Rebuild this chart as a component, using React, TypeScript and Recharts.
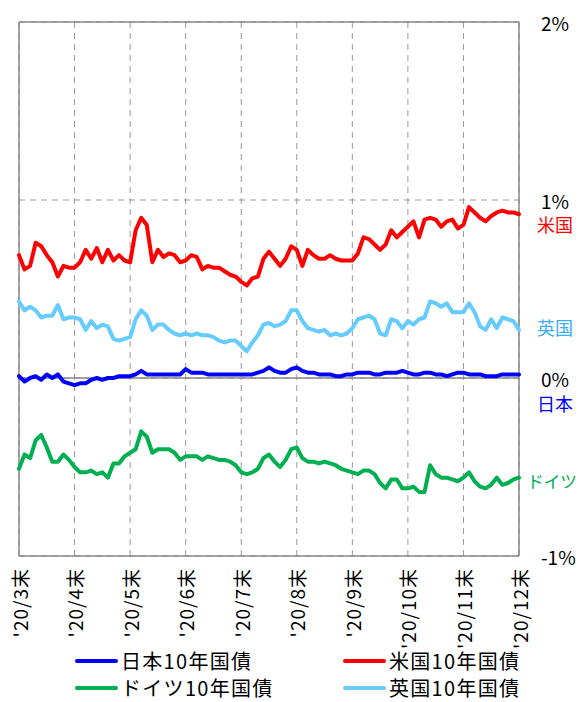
import React from 'react';
import { LineChart, Line, XAxis, YAxis, CartesianGrid, ReferenceLine } from 'recharts';

const monthLabels = ["'20/3末", "'20/4末", "'20/5末", "'20/6末", "'20/7末", "'20/8末", "'20/9末", "'20/10末", "'20/11末", "'20/12末"];
const yTicks = [-1, 0, 1, 2];

const usYield = [
  0.69, 0.61, 0.63, 0.76, 0.74, 0.69, 0.65, 0.57, 0.63, 0.62,
  0.62, 0.65, 0.72, 0.67, 0.73, 0.65, 0.72, 0.66, 0.69, 0.66,
  0.65, 0.83, 0.90, 0.86, 0.65, 0.72, 0.68, 0.70, 0.69, 0.65,
  0.66, 0.69, 0.68, 0.61, 0.63, 0.62, 0.62, 0.60, 0.58, 0.57,
  0.54, 0.52, 0.56, 0.57, 0.67, 0.71, 0.67, 0.63, 0.67, 0.74,
  0.72, 0.63, 0.72, 0.69, 0.67, 0.67, 0.69, 0.67, 0.66, 0.66,
  0.66, 0.70, 0.79, 0.78, 0.75, 0.72, 0.75, 0.83, 0.79, 0.82,
  0.85, 0.88, 0.79, 0.89, 0.90, 0.89, 0.85, 0.88, 0.89, 0.84,
  0.86, 0.96, 0.93, 0.90, 0.88, 0.91, 0.93, 0.94, 0.93, 0.93, 0.92,
];

const ukYield = [
  0.43, 0.38, 0.40, 0.38, 0.34, 0.35, 0.35, 0.41, 0.33, 0.34,
  0.34, 0.33, 0.27, 0.32, 0.28, 0.30, 0.29, 0.22, 0.21, 0.22,
  0.23, 0.33, 0.38, 0.35, 0.27, 0.30, 0.30, 0.27, 0.25, 0.24,
  0.25, 0.24, 0.25, 0.24, 0.24, 0.23, 0.21, 0.20, 0.21, 0.21,
  0.18, 0.15, 0.20, 0.24, 0.30, 0.31, 0.29, 0.30, 0.32, 0.38,
  0.38, 0.32, 0.28, 0.27, 0.26, 0.27, 0.24, 0.25, 0.24, 0.25,
  0.28, 0.33, 0.34, 0.35, 0.33, 0.25, 0.24, 0.33, 0.32, 0.28,
  0.32, 0.30, 0.33, 0.34, 0.43, 0.42, 0.40, 0.42, 0.37, 0.37,
  0.37, 0.42, 0.37, 0.29, 0.27, 0.33, 0.28, 0.34, 0.33, 0.32, 0.27,
];

const jpYield = [
  0.01, -0.02, 0.00, 0.01, -0.01, 0.02, 0.00, 0.02, -0.02, -0.03,
  -0.04, -0.03, -0.03, -0.01, 0.00, -0.01, 0.00, 0.00, 0.01, 0.01,
  0.01, 0.02, 0.04, 0.02, 0.02, 0.02, 0.02, 0.02, 0.02, 0.02,
  0.05, 0.03, 0.03, 0.03, 0.02, 0.02, 0.02, 0.02, 0.02, 0.02,
  0.02, 0.02, 0.02, 0.03, 0.04, 0.06, 0.04, 0.03, 0.03, 0.05,
  0.06, 0.04, 0.03, 0.03, 0.02, 0.02, 0.02, 0.01, 0.01, 0.02,
  0.02, 0.03, 0.03, 0.03, 0.02, 0.02, 0.03, 0.03, 0.03, 0.04,
  0.03, 0.02, 0.02, 0.03, 0.03, 0.02, 0.02, 0.01, 0.02, 0.03,
  0.03, 0.02, 0.02, 0.02, 0.01, 0.01, 0.01, 0.02, 0.02, 0.02, 0.02,
];

const deYield = [
  -0.51, -0.43, -0.45, -0.35, -0.32, -0.39, -0.47, -0.47, -0.43, -0.46,
  -0.50, -0.53, -0.53, -0.52, -0.54, -0.53, -0.56, -0.48, -0.48, -0.44,
  -0.42, -0.40, -0.30, -0.33, -0.42, -0.40, -0.40, -0.40, -0.42, -0.46,
  -0.44, -0.44, -0.44, -0.46, -0.44, -0.45, -0.46, -0.46, -0.47, -0.49,
  -0.53, -0.54, -0.53, -0.51, -0.45, -0.43, -0.47, -0.50, -0.46, -0.40,
  -0.39, -0.45, -0.47, -0.47, -0.48, -0.47, -0.48, -0.49, -0.51, -0.52,
  -0.53, -0.54, -0.52, -0.52, -0.54, -0.59, -0.62, -0.57, -0.57, -0.62,
  -0.62, -0.61, -0.64, -0.64, -0.49, -0.54, -0.56, -0.56, -0.57, -0.58,
  -0.56, -0.53, -0.58, -0.61, -0.62, -0.60, -0.56, -0.60, -0.59, -0.57, -0.56,
];

const seriesNames = ['日本10年国債', '米国10年国債', 'ドイツ10年国債', '英国10年国債'];
const seriesKeys = ['jp', 'us', 'de', 'uk'];
const seriesColors = ['#0000FF', '#FF0000', '#00B050', '#66CCFF'];
const shortNames = ['日本', '米国', 'ドイツ', '英国'];
const shortLabelY = [-0.14, 0.865, -0.575, 0.285];

const data = usYield.map((v, i) => ({
  i,
  us: v,
  uk: ukYield[i],
  jp: jpYield[i],
  de: deYield[i],
}));

const xTicks = monthLabels.map((_, k) => k * 10);

const FONT = '"Noto Sans CJK JP", "Noto Sans", sans-serif';

const XTick = (props: any) => {
  const { x, y, payload } = props;
  const label = monthLabels[Math.round(payload.value / 10)];
  return (
    <text
      x={0}
      y={0}
      transform={`translate(${x},${y + 4}) rotate(-90)`}
      textAnchor="end"
      dominantBaseline="central"
      fontSize={19}
      letterSpacing={1}
      fontFamily={FONT}
      fill="#000"
    >
      {label}
    </text>
  );
};

const YTick = (props: any) => {
  const { y, payload } = props;
  return (
    <text x={541} y={y} textAnchor="start" dominantBaseline="central" fontSize={19} fontFamily={FONT} fill="#000">
      {`${payload.value}%`}
    </text>
  );
};

const ShortLabel = (props: any) => {
  const { viewBox, value, fill, idx } = props;
  const vb = viewBox || {};
  const x = (vb.x || 0) + (vb.width || 0) + (idx === 2 ? 8 : 18);
  return (
    <text
      x={x}
      y={vb.y}
      textAnchor="start"
      dominantBaseline="central"
      fontSize={idx === 2 ? 17 : 18}
      letterSpacing={idx === 2 ? -0.5 : 0}
      fontFamily={FONT}
      fill={fill}
    >
      {value}
    </text>
  );
};

const Legend2 = () => (
  <div style={{ position: 'absolute', left: 0, top: 649, width: 582, height: 52, fontFamily: FONT }}>
    {seriesNames.map((name, k) => {
      const col = k % 2;
      const row = Math.floor(k / 2);
      const left = col === 0 ? 75 : 343;
      const top = row * 27;
      return (
        <div key={name} style={{ position: 'absolute', left, top, height: 23, display: 'flex', alignItems: 'center' }}>
          <div style={{ width: 43, height: 4, background: seriesColors[k], borderRadius: 2 }} />
          <span style={{ fontSize: 20, marginLeft: 3, color: '#000', lineHeight: '23px', letterSpacing: 1.3 }}>{name}</span>
        </div>
      );
    })}
  </div>
);

export default function App() {
  return (
    <div style={{ position: 'absolute', left: 0, top: 0, width: 582, height: 702, background: '#fff' }}>
      <LineChart width={582} height={702} data={data} margin={{ top: 22, right: 0, left: 19, bottom: 0 }}>
        <CartesianGrid stroke="#999" strokeDasharray="6 5" vertical horizontal />
        <XAxis
          type="number"
          dataKey="i"
          domain={[0, 90]}
          ticks={xTicks}
          tick={<XTick />}
          axisLine={false}
          tickLine={false}
          height={146}
          interval={0}
        />
        <YAxis
          orientation="right"
          type="number"
          domain={[-1, 2]}
          ticks={yTicks}
          tick={<YTick />}
          axisLine={false}
          tickLine={false}
          width={63}
          interval={0}
        />
        <ReferenceLine y={0} stroke="#888" strokeWidth={1.5} />
        <ReferenceLine y={-1} stroke="#888" strokeWidth={1.5} />
        <ReferenceLine y={2} stroke="#888" strokeWidth={1.5} />
        <ReferenceLine x={0} stroke="#888" strokeWidth={1.5} />
        <ReferenceLine x={90} stroke="#888" strokeWidth={1.5} />
        {shortNames.map((n, k) => (
          <ReferenceLine
            key={n}
            y={shortLabelY[k]}
            stroke="none"
            label={<ShortLabel value={n} idx={k} fill={k === 3 ? '#3AAEF0' : seriesColors[k]} />}
          />
        ))}
        {seriesKeys.map((key, k) => (
          <Line
            key={key}
            type="linear"
            dataKey={key}
            stroke={seriesColors[k]}
            strokeWidth={4}
            dot={false}
            isAnimationActive={false}
            strokeLinejoin="round"
            strokeLinecap="round"
          />
        ))}
      </LineChart>
      <Legend2 />
    </div>
  );
}
